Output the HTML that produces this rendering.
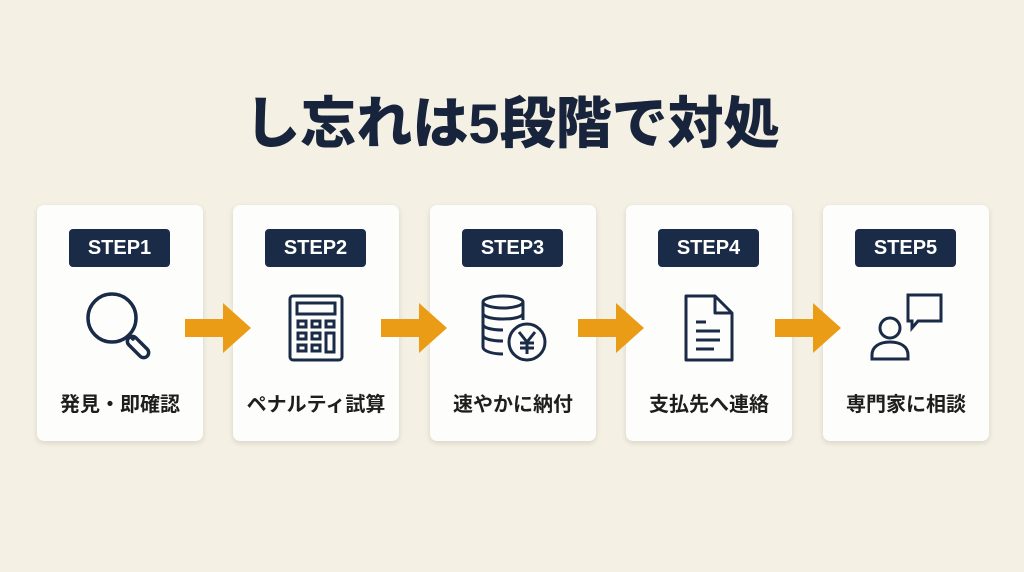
<!DOCTYPE html>
<html><head><meta charset="utf-8"><style>
html,body{margin:0;padding:0}
body{width:1024px;height:572px;background:#f4f0e3;position:relative;overflow:hidden;font-family:"Liberation Sans","Noto Sans CJK JP",sans-serif;color:#1b2940}
.title{position:absolute;left:0;width:1024px;top:88px;text-align:center;font-size:56px;font-weight:900;line-height:72px;color:#17243b}
.card{position:absolute;top:205px;width:166px;height:236px;background:#fdfdfc;border-radius:7px;box-shadow:0 2px 6px rgba(0,0,0,.12)}
.badge{position:absolute;left:32px;top:24px;width:101px;height:38px;background:#1a2b47;border-radius:4px;color:#fff;font-weight:bold;font-size:20px;line-height:38px;text-align:center}
.lab{position:absolute;left:0;width:166px;top:183px;text-align:center;font-size:20px;font-weight:bold;color:#1e1e1e;white-space:nowrap}
svg.ic{position:absolute;left:43px;top:85px}
.arr{position:absolute;top:303px}
</style></head><body>
<div class="title">し忘れは5段階で対処</div>

<div class="card" style="left:37px"><div class="badge">STEP1</div>
<svg class="ic" width="80" height="80" viewBox="0 0 80 80" fill="none" stroke="#1a2b47" stroke-width="3.5" stroke-linecap="round">
<circle cx="32" cy="28" r="24"/><line x1="49" y1="45" x2="53" y2="49"/><rect x="53" y="44" width="10" height="26" rx="5" transform="rotate(-45 58 57)"/></svg>
<div class="lab">発見・即確認</div></div>

<div class="card" style="left:233px"><div class="badge">STEP2</div>
<svg class="ic" width="80" height="80" viewBox="0 0 80 80" fill="none" stroke="#1a2b47" stroke-width="3">
<rect x="14" y="6" width="52" height="64" rx="3"/><rect x="21" y="13" width="38" height="11"/>
<rect x="22" y="31" width="8" height="6"/><rect x="36" y="31" width="8" height="6"/><rect x="50" y="31" width="8" height="6"/>
<rect x="22" y="43" width="8" height="6"/><rect x="36" y="43" width="8" height="6"/><rect x="50" y="43" width="8" height="19"/>
<rect x="22" y="55" width="8" height="6"/><rect x="36" y="55" width="8" height="6"/></svg>
<div class="lab">ペナルティ試算</div></div>

<div class="card" style="left:430px"><div class="badge">STEP3</div>
<svg class="ic" width="80" height="80" viewBox="0 0 80 80" fill="none" stroke="#1a2b47" stroke-width="3">
<ellipse cx="30" cy="12" rx="20" ry="6"/><path d="M10 12v45c0 4 9 7 20 7M50 12v18M10 23c0 4 9 6 20 6s20-2 20-6M10 34c0 4 9 6 20 6M10 45c0 4 9 6 20 6"/>
<circle cx="54" cy="52" r="18" fill="#fdfdfc"/><path d="M46 42l8 10 8-10M54 52v12M47 53h14M47 58h14"/></svg>
<div class="lab">速やかに納付</div></div>

<div class="card" style="left:626px"><div class="badge">STEP4</div>
<svg class="ic" width="80" height="80" viewBox="0 0 80 80" fill="none" stroke="#1a2b47" stroke-width="3" stroke-linejoin="round">
<path d="M17 6h29l17 17v47H17z"/><path d="M46 6v17h17"/><path d="M27 32h10M27 41h24M27 50h24M27 59h18"/></svg>
<div class="lab">支払先へ連絡</div></div>

<div class="card" style="left:823px"><div class="badge">STEP5</div>
<svg class="ic" width="80" height="80" viewBox="0 0 80 80" fill="none" stroke="#1a2b47" stroke-width="3">
<circle cx="24" cy="38" r="10"/><path d="M6 69v-4c0-8 7-13 18-13s18 5 18 13v4z"/>
<path d="M42 5h33v26H52l-6 7v-7h-4z"/></svg>
<div class="lab">専門家に相談</div></div>

<svg class="arr" style="left:185px" width="66" height="50"><path d="M0 16h38V0l28 25-28 25V34H0z" fill="#eb9c16"/></svg>
<svg class="arr" style="left:381px" width="66" height="50"><path d="M0 16h38V0l28 25-28 25V34H0z" fill="#eb9c16"/></svg>
<svg class="arr" style="left:578px" width="66" height="50"><path d="M0 16h38V0l28 25-28 25V34H0z" fill="#eb9c16"/></svg>
<svg class="arr" style="left:775px" width="66" height="50"><path d="M0 16h38V0l28 25-28 25V34H0z" fill="#eb9c16"/></svg>
</body></html>
